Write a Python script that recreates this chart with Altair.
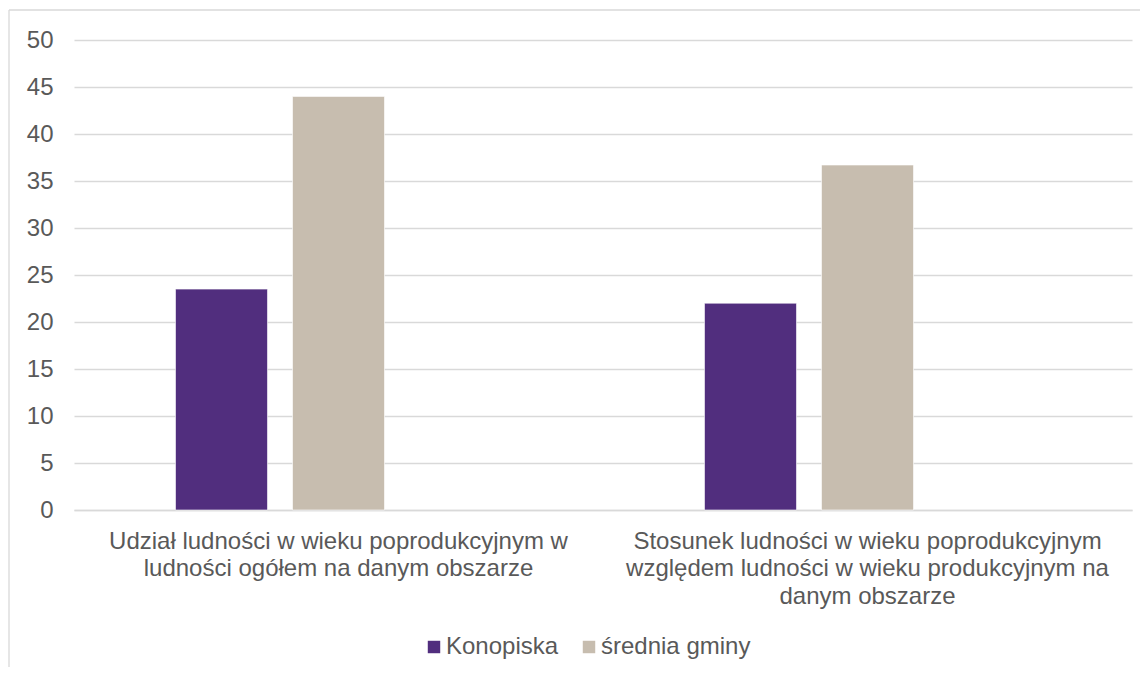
import altair as alt
import pandas as pd

category_lines = [
    ["Udział ludności w wieku poprodukcyjnym w", "ludności ogółem na danym obszarze"],
    ["Stosunek ludności w wieku poprodukcyjnym", "względem ludności w wieku produkcyjnym na", "danym obszarze"],
]
categories = ["|".join(c) for c in category_lines]
series = ["Konopiska", "średnia gminy"]
konopiska = [23.5, 22.0]
srednia = [44.0, 36.7]
y_ticks = [0, 5, 10, 15, 20, 25, 30, 35, 40, 45, 50]
colors = ["#512E7E", "#C7BDAF"]
offset_domain = series + ["(brak)"]

rows = []
for i, c in enumerate(categories):
    rows.append({"kat": c, "seria": series[0], "wartosc": konopiska[i]})
    rows.append({"kat": c, "seria": series[1], "wartosc": srednia[i]})
df = pd.DataFrame(rows)

FONT = "Liberation Sans"
FS = 24
W, H = 1058, 470

bars = alt.Chart(df).mark_bar(stroke="white", strokeWidth=0.6).encode(
    x=alt.X("kat:N", sort=categories,
            scale=alt.Scale(domain=categories, paddingInner=0.3837, paddingOuter=0.19186),
            axis=alt.Axis(title=None, labelAngle=0, ticks=False, domain=True, domainColor="#D9D9D9",
                          domainWidth=1.3, labelFont=FONT, labelFontSize=FS, labelColor="#595959",
                          labelExpr="split(datum.label, '|')", labelLineHeight=27.5, labelPadding=19,
                          labelLimit=800, labelBaseline="top")),
    xOffset=alt.XOffset("seria:N", scale=alt.Scale(domain=offset_domain, paddingInner=0.2137, paddingOuter=0)),
    y=alt.Y("wartosc:Q", scale=alt.Scale(domain=[0, 50], nice=False),
            axis=alt.Axis(title=None, values=y_ticks, ticks=False, domain=False, grid=True,
                          gridColor="#D9D9D9", gridWidth=1.3, labelFont=FONT, labelFontSize=FS,
                          labelColor="#595959", labelPadding=21)),
    color=alt.Color("seria:N", scale=alt.Scale(domain=series, range=colors),
                    legend=alt.Legend(title=None, orient="none", legendX=348, legendY=595,
                                      direction="horizontal", symbolType="square", symbolSize=155,
                                      symbolStrokeWidth=0, labelFont=FONT, labelFontSize=FS,
                                      labelColor="#595959", labelOffset=0, columnPadding=18,
                                      symbolOpacity=1)),
)

frame_top = alt.Chart(pd.DataFrame({"a": [0]})).mark_rule(color="#D9D9D9", strokeWidth=1.3).encode(
    x=alt.value(-65), x2=alt.value(1200), y=alt.value(-30))
frame_left = alt.Chart(pd.DataFrame({"a": [0]})).mark_rule(color="#D9D9D9", strokeWidth=1.3).encode(
    x=alt.value(-65), y=alt.value(-30), y2=alt.value(700))

chart = alt.layer(frame_top, frame_left, bars).properties(
    width=W, height=H,
    autosize=alt.AutoSizeParams(type="none"),
    padding={"left": 66, "top": 32, "right": 8, "bottom": 157},
    background="white",
).configure_view(stroke=None)

chart.save("out.html", embed_options={"renderer": "svg", "actions": False})
